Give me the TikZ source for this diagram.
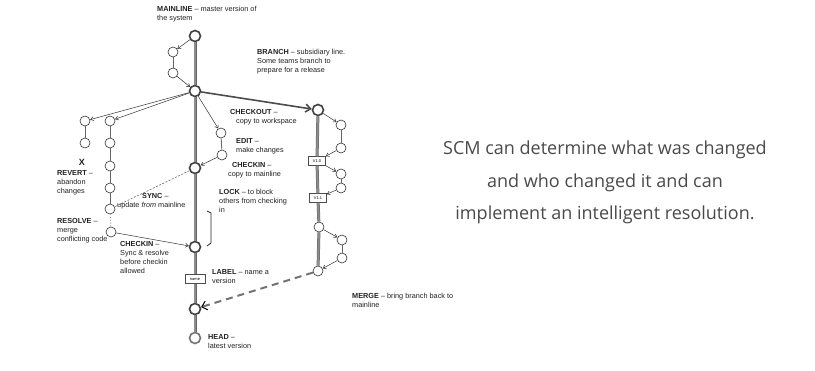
\documentclass[tikz,border=0pt]{standalone}
\usepackage{fontspec}
\newfontfamily\dfont{Liberation Sans}
\newfontfamily\ofont{Open Sans}
\usetikzlibrary{arrows.meta}
\definecolor{txt}{HTML}{222222}
\definecolor{rtxt}{HTML}{4A4A4A}
\begin{document}
\begin{tikzpicture}[x=1pt,y=-1pt,
  sn/.style={circle,draw=black!80,line width=0.6pt,minimum size=10pt,inner sep=0pt,fill=white},
  mn/.style={circle,draw=black!75,line width=1.6pt,minimum size=11pt,inner sep=0pt,fill=white},
  vbox/.style={rectangle,draw=black!70,line width=0.5pt,fill=white,minimum width=17pt,minimum height=9pt,inner sep=0pt,font=\dfont\fontsize{4}{4}\selectfont},
  lbl/.style={anchor=north west,inner sep=0pt,align=left,text=txt,font=\dfont\fontsize{7.3}{9}\selectfont},
  rlbl/.style={anchor=base,inner sep=0pt,text=rtxt,font=\ofont\fontsize{18}{20}\selectfont},
  arr/.style={draw=black!80,line width=0.5pt,-{Straight Barb[length=3pt,width=4pt]}},
  link/.style={draw=black!60,line width=0.8pt},
  trunk/.style={draw=black!60,line width=0.5pt,double=black!45,double distance=2pt},
]
\useasboundingbox[fill=white] (0,0) rectangle (815,371);

% mainline nodes
\node[mn] (top) at (195,36) {};
\node[sn] (a1) at (173,52) {};
\node[sn] (a2) at (173,73) {};
\node[mn] (br) at (195,91) {};
\node[mn] (ci) at (195,168) {};
\node[mn] (ci2) at (195,247) {};
\node[vbox,minimum width=20pt] (nm) at (195,279) {name};
\node[mn] (mg) at (195,309) {};
\node[mn,draw=black!55] (hd) at (195,338) {};

% edit nodes
\node[sn] (e1) at (221,133) {};
\node[sn] (e2) at (222,155) {};

% branch (right)
\node[mn] (co) at (318,110) {};
\node[sn] (r1) at (341,125) {};
\node[sn] (r2) at (341,148) {};
\node[vbox] (v10) at (317,161) {V1.0};
\node[sn] (r3) at (341,174) {};
\node[sn] (r4) at (341,188) {};
\node[vbox] (v11) at (318,198) {V1.1};
\node[sn] (r5) at (319,227) {};
\node[sn] (r6) at (342,240) {};
\node[sn] (r7) at (342,258) {};
\node[sn] (r8) at (318,271) {};

% left columns
\node[sn] (l1) at (85,121) {};
\node[sn] (l2) at (85,143) {};
\node[sn] (m1) at (110,121) {};
\node[sn] (m2) at (110,143) {};
\node[sn] (m3) at (110,166) {};
\node[sn] (m4) at (110,188) {};
\node[sn] (m5) at (110,209) {};
\node[sn] (m6) at (111,232) {};

% trunks
\draw[trunk] (top) -- (br);
\draw[trunk] (br) -- (ci);
\draw[trunk] (ci) -- (ci2);
\draw[trunk] (ci2) -- (nm);
\draw[trunk] (nm) -- (mg);
\draw[trunk] (mg) -- (hd);
\draw[trunk] (co) -- (v10);
\draw[trunk] (v10) -- (v11);
\draw[trunk] (v11) -- (r5);
\draw[trunk] (r5) -- (r8);

% connectors
\draw[arr] (top) -- (a1);
\draw[link] (a1) -- (a2);
\draw[arr] (a2) -- (br);
\draw[arr] (br) -- (l1);
\draw[arr] (br) -- (m1);
\draw[arr] (br) -- (e1);
\draw[link] (e1) -- (e2);
\draw[arr] (e2) -- (ci);
\draw[draw=black!70,line width=1.6pt,-{Straight Barb[length=5pt,width=8pt]}] (br) -- (co);
\draw[arr] (co) -- (r1);
\draw[link] (r1) -- (r2);
\draw[arr] (r2) -- (v10);
\draw[arr] (v10) -- (r3);
\draw[link] (r3) -- (r4);
\draw[arr] (r4) -- (v11);
\draw[arr] (r5) -- (r6);
\draw[link] (r6) -- (r7);
\draw[arr] (r7) -- (r8);
\draw[link] (l1) -- (l2);
\draw[link] (m1) -- (m2);
\draw[link] (m2) -- (m3);
\draw[link] (m3) -- (m4);
\draw[link] (m4) -- (m5);
\draw[draw=black!60,line width=0.6pt,dash pattern=on 2pt off 1.5pt] (ci) -- (m5);
\draw[draw=black!50,line width=0.8pt,dotted] (m5) -- (m6);
\draw[arr] (m6) -- (ci2);
\draw[draw=black!55,line width=2pt,dash pattern=on 7pt off 5pt,
  -{Straight Barb[length=5pt,width=9pt,line width=1pt,color=black]}] (r8) -- (mg);

% lock bracket
\draw[black!85,line width=0.8pt] (207,211) -- (211,213) -- (211,243) -- (207,246);

% labels
\node[lbl] (tmain) at (157,6) {\textbf{MAINLINE} – master version of\\the system};
\node[lbl] (tbranch) at (257,49) {\textbf{BRANCH} – subsidiary line.\\Some teams branch to\\prepare for a release};
\node[lbl] (tco) at (230,109) {\textbf{CHECKOUT} –\\\hspace*{6pt}copy to workspace};
\node[lbl] (tedit) at (236,138) {\textbf{EDIT} –\\make changes};
\node[lbl] (tci) at (228,162) {\hspace*{4pt}\textbf{CHECKIN} –\\copy to mainline};
\node[lbl] (tlock) at (219,189) {\textbf{LOCK} – to block\\others from checking\\in};
\node[lbl] (tlabel) at (212,269) {\textbf{LABEL} – name a\\version};
\node[lbl] (thead) at (208,334) {\textbf{HEAD} –\\latest version};
\node[lbl] (tmerge) at (352,293) {\textbf{MERGE} – bring branch back to\\mainline};
\node[inner sep=0pt,text=txt,font=\dfont\bfseries\fontsize{9}{9}\selectfont] (tx) at (82,162) {X};
\node[lbl] (trevert) at (57,170) {\textbf{REVERT} –\\abandon\\changes};
\node[lbl] (tsync) at (117,193) {\hspace*{25pt}\textbf{SYNC} –\\update \textit{from} mainline};
\node[lbl] (tresolve) at (57,218) {\textbf{RESOLVE} –\\merge\\conflicting code};
\node[lbl] (tci2) at (120,241) {\textbf{CHECKIN} –\\Sync \& resolve\\before checkin\\allowed};

% right text
\node[rlbl] (s1) at (605,155) {SCM can determine what was changed};
\node[rlbl] (s2) at (605,188) {and who changed it and can};
\node[rlbl] (s3) at (605,220) {implement an intelligent resolution.};
\end{tikzpicture}
\end{document}
